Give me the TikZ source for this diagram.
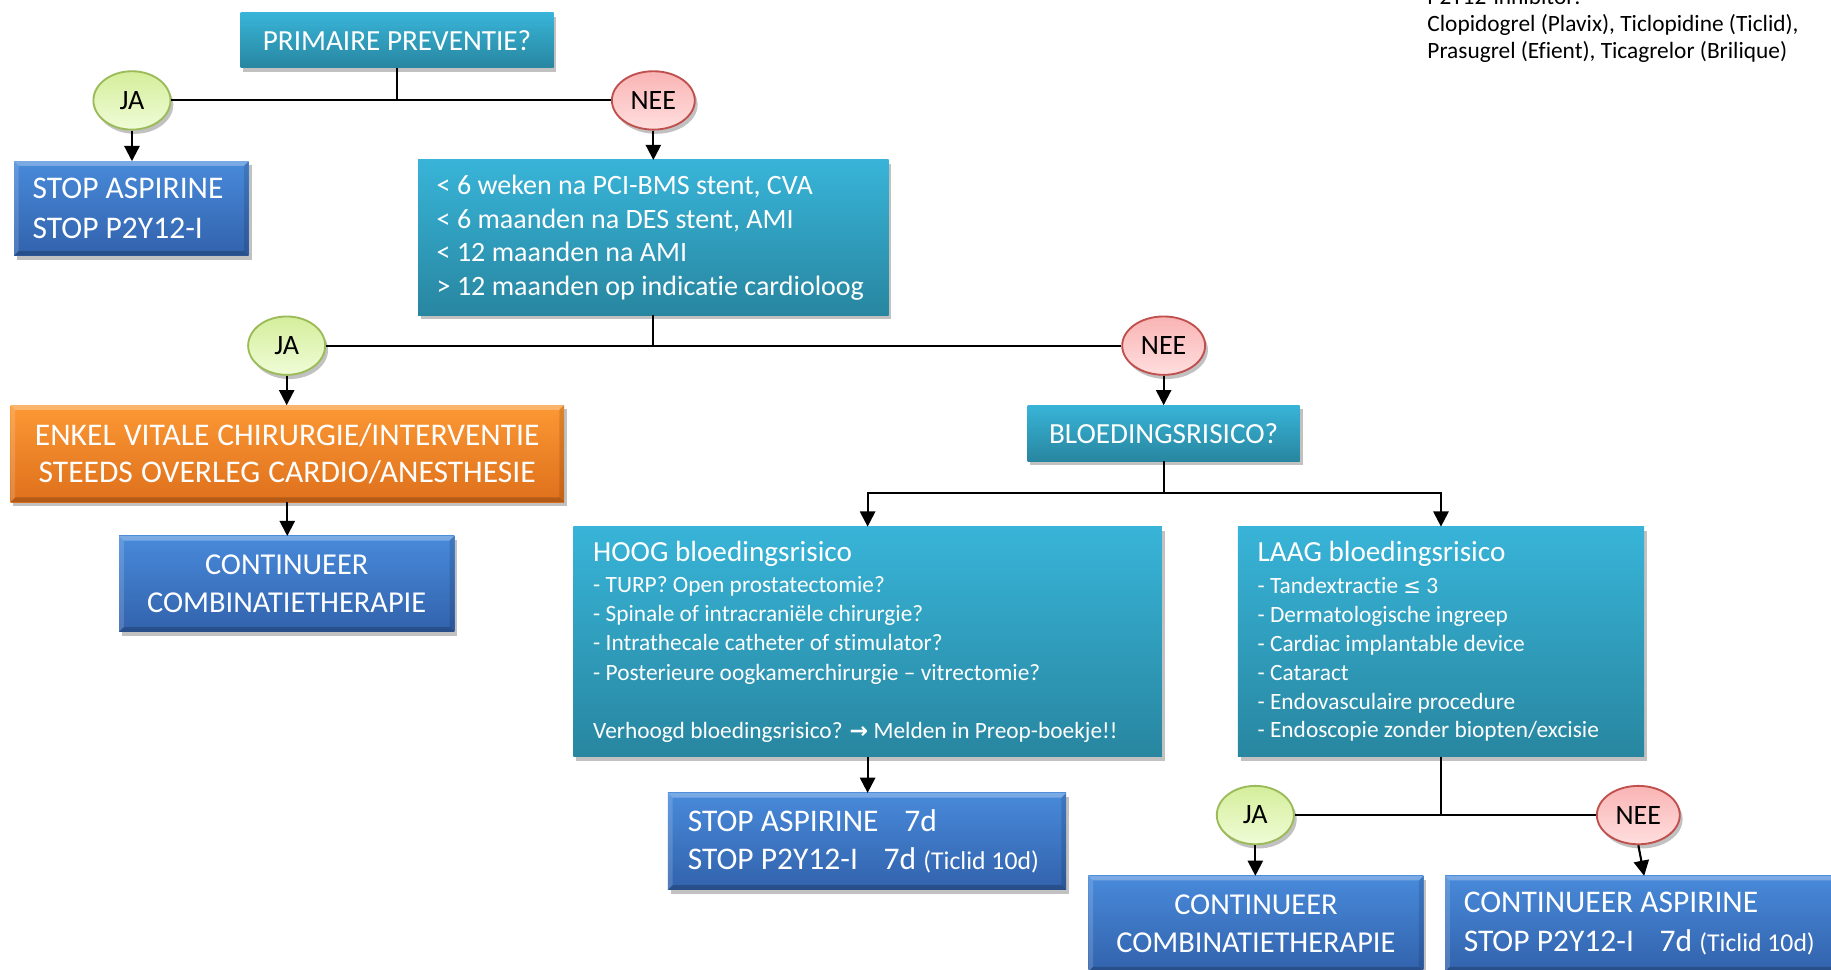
\documentclass[tikz,border=0pt]{standalone}
\usepackage{fontspec}
\setmainfont{Carlito}[Ligatures=NoCommon]
\newfontfamily\symfont{DejaVu Sans}
\usetikzlibrary{shapes.geometric,shadows,arrows.meta}

\definecolor{tealtop}{RGB}{56,180,216}
\definecolor{tealbot}{RGB}{40,134,160}
\definecolor{bluetop}{RGB}{72,138,218}
\definecolor{bluebot}{RGB}{50,98,172}
\definecolor{orgtop}{RGB}{252,152,52}
\definecolor{orgbot}{RGB}{222,112,28}
\definecolor{jatop}{RGB}{212,238,155}
\definecolor{jabot}{RGB}{240,252,215}
\definecolor{jaline}{RGB}{155,187,89}
\definecolor{neetop}{RGB}{250,180,180}
\definecolor{neebot}{RGB}{255,222,222}
\definecolor{neeline}{RGB}{192,80,77}
\newcommand\natsp{\spaceskip=0pt\xspaceskip=0pt\hyphenpenalty=10000\relax}

\begin{document}
\begin{tikzpicture}[x=0.5pt,y=-0.5pt,
  shadowed/.style={drop shadow={shadow xshift=1.2pt,shadow yshift=-1.8pt,opacity=0.35,fill=black!70}},
  boxbase/.style={shadowed,inner ysep=0pt,outer sep=0pt,text=white},
  tealbox/.style={boxbase,top color=tealtop,bottom color=tealbot},
  bevel/.style={path picture={
    \fill[white,opacity=0.28] (path picture bounding box.north west) -- (path picture bounding box.north east)
      -- ([shift={(-2pt,-2pt)}]path picture bounding box.north east) -- ([shift={(2pt,-2pt)}]path picture bounding box.north west) -- cycle;
    \fill[white,opacity=0.15] (path picture bounding box.north west) -- (path picture bounding box.south west)
      -- ([shift={(2pt,2pt)}]path picture bounding box.south west) -- ([shift={(2pt,-2pt)}]path picture bounding box.north west) -- cycle;
    \fill[black,opacity=0.2] (path picture bounding box.south west) -- (path picture bounding box.south east)
      -- ([shift={(-2pt,2pt)}]path picture bounding box.south east) -- ([shift={(2pt,2pt)}]path picture bounding box.south west) -- cycle;
    \fill[black,opacity=0.12] (path picture bounding box.north east) -- (path picture bounding box.south east)
      -- ([shift={(-2pt,2pt)}]path picture bounding box.south east) -- ([shift={(-2pt,-2pt)}]path picture bounding box.north east) -- cycle;
  }},
  bluebox/.style={boxbase,top color=bluetop,bottom color=bluebot,bevel},
  orangebox/.style={boxbase,top color=orgtop,bottom color=orgbot,bevel},
  yesnode/.style={ellipse,shadowed,draw=jaline,line width=0.8pt,top color=jatop,bottom color=jabot,
    minimum width=33pt,minimum height=25pt,inner sep=0pt,font=\fontsize{12}{14}\selectfont},
  nonode/.style={ellipse,shadowed,draw=neeline,line width=0.8pt,top color=neetop,bottom color=neebot,
    minimum width=35.5pt,minimum height=25pt,inner sep=0pt,font=\fontsize{12}{14}\selectfont},
  conn/.style={line width=0.9pt,draw=black},
  arr/.style={conn,-{Triangle[width=6.5pt,length=6.5pt]}}
]
\useasboundingbox (0,0) rectangle (1568,830);
\clip (0,0) rectangle (1568,830);

% note top right
\node[anchor=west,align=left,inner sep=0pt,font=\fontsize{10}{11.5}\selectfont] (note) at (1222,22)
  {\natsp P2Y12-inhibitor:\\Clopidogrel (Plavix), Ticlopidine (Ticlid),\\Prasugrel (Efient), Ticagrelor (Brilique)};

% level 1
\node[tealbox,minimum width=134pt,minimum height=23.5pt,font=\fontsize{12.5}{15}\selectfont] (pp) at (340,34.5) {PRIMAIRE PREVENTIE?};
\node[yesnode] (ja1) at (113,86) {JA};
\node[nonode] (nee1) at (559.5,86) {NEE};

\node[bluebox,align=left,text width=84.5pt,inner xsep=8pt,minimum height=40.5pt,font=\fontsize{13.5}{17}\selectfont] (stop1) at (112.5,178.5)
  {\natsp STOP ASPIRINE\\STOP P2Y12-I};

\node[tealbox,align=left,text width=185.5pt,inner xsep=8pt,minimum height=66.5pt,font=\fontsize{12}{14.5}\selectfont] (big) at (559.5,203.5)
  {\natsp < 6 weken na PCI-BMS stent, CVA\\< 6 maanden na DES stent, AMI\\< 12 maanden na AMI\\> 12 maanden op indicatie cardioloog};

% level 2
\node[yesnode] (ja2) at (245.5,296) {JA};
\node[nonode] (nee2) at (996.5,296) {NEE};

\node[orangebox,align=center,text width=230pt,inner xsep=3.5pt,minimum height=41.5pt,font=\fontsize{13.5}{16}\selectfont] (orange) at (246,388.5)
  {\natsp ENKEL VITALE CHIRURGIE/INTERVENTIE\\STEEDS OVERLEG CARDIO/ANESTHESIE};
\node[bluebox,align=center,text width=135.5pt,inner xsep=4pt,minimum height=41pt,font=\fontsize{13}{16.5}\selectfont] (cont1) at (245.5,500)
  {\natsp CONTINUEER\\COMBINATIETHERAPIE};

\node[tealbox,minimum width=116.5pt,minimum height=24pt,font=\fontsize{12.5}{15}\selectfont] (bl) at (996.5,371) {BLOEDINGSRISICO?};

% level 3
\node[tealbox,align=left,text width=235pt,inner xsep=8.5pt,minimum height=98.5pt,font=\fontsize{10}{12.5}\selectfont] (hoog) at (743,549.5)
  {\natsp{\fontsize{12.5}{15}\selectfont HOOG bloedingsrisico}\\[1pt]
   - TURP? Open prostatectomie?\\
   - Spinale of intracraniële chirurgie?\\
   - Intrathecale catheter of stimulator?\\
   - Posterieure oogkamerchirurgie – vitrectomie?\\[12.5pt]
   Verhoogd bloedingsrisico? {\symfont\bfseries\fontsize{9.5}{12.5}\selectfont →} Melden in Preop-boekje!!};

\node[tealbox,align=left,text width=157pt,inner xsep=8.5pt,minimum height=98.5pt,font=\fontsize{10}{12.4}\selectfont] (laag) at (1234,549.5)
  {\natsp{\fontsize{12.5}{15}\selectfont LAAG bloedingsrisico}\\[1pt]
   - Tandextractie {\symfont\fontsize{9}{12.4}\selectfont ≤} 3\\
   - Dermatologische ingreep\\
   - Cardiac implantable device\\
   - Cataract\\
   - Endovasculaire procedure\\
   - Endoscopie zonder biopten/excisie};

\node[bluebox,align=left,text width=153.5pt,inner xsep=8.5pt,minimum height=41.5pt,font=\fontsize{13.5}{16.5}\selectfont] (stop2) at (742.5,720.5)
  {\natsp STOP ASPIRINE\hspace{11pt}7d\\STOP P2Y12-I\hspace{11pt}7d {\fontsize{11}{13}\selectfont (Ticlid 10d)}};

% level 4
\node[yesnode] (ja3) at (1075,698) {JA};
\node[nonode] (nee3) at (1403,698) {NEE};

\node[bluebox,align=center,text width=135.5pt,inner xsep=4pt,minimum height=41pt,font=\fontsize{13}{16.5}\selectfont] (cont2) at (1075.5,791)
  {\natsp CONTINUEER\\COMBINATIETHERAPIE};
\node[bluebox,align=left,text width=154.5pt,inner xsep=8pt,minimum height=41pt,font=\fontsize{13.5}{16.5}\selectfont] (cont3) at (1408,791)
  {\natsp CONTINUEER ASPIRINE\\STOP P2Y12-I\hspace{11pt}7d {\fontsize{11}{13}\selectfont (Ticlid 10d)}};

% connectors
\draw[conn] (pp.south) -- (pp.south |- ja1.east);
\draw[conn] (ja1.east) -- (nee1.west);
\draw[arr] (ja1.south) -- (ja1.south |- stop1.north);
\draw[arr] (nee1.south) -- (nee1.south |- big.north);

\draw[conn] (big.south) -- (big.south |- ja2.east);
\draw[conn] (ja2.east) -- (nee2.west);
\draw[arr] (ja2.south) -- (ja2.south |- orange.north);
\draw[arr] (orange.south) -- (orange.south |- cont1.north);
\draw[arr] (nee2.south) -- (nee2.south |- bl.north);

\coordinate (split) at (996.5,422);
\draw[conn] (bl.south) -- (split);
\draw[arr] (split) -| (hoog.north);
\draw[arr] (split) -| (laag.north);
\draw[arr] (hoog.south) -- (hoog.south |- stop2.north);

\draw[conn] (laag.south) -- (laag.south |- ja3.east);
\draw[conn] (ja3.east) -- (nee3.west);
\draw[arr] (ja3.south) -- (ja3.south |- cont2.north);
\draw[arr] (nee3.south) -- (cont3.north);
\end{tikzpicture}
\end{document}
